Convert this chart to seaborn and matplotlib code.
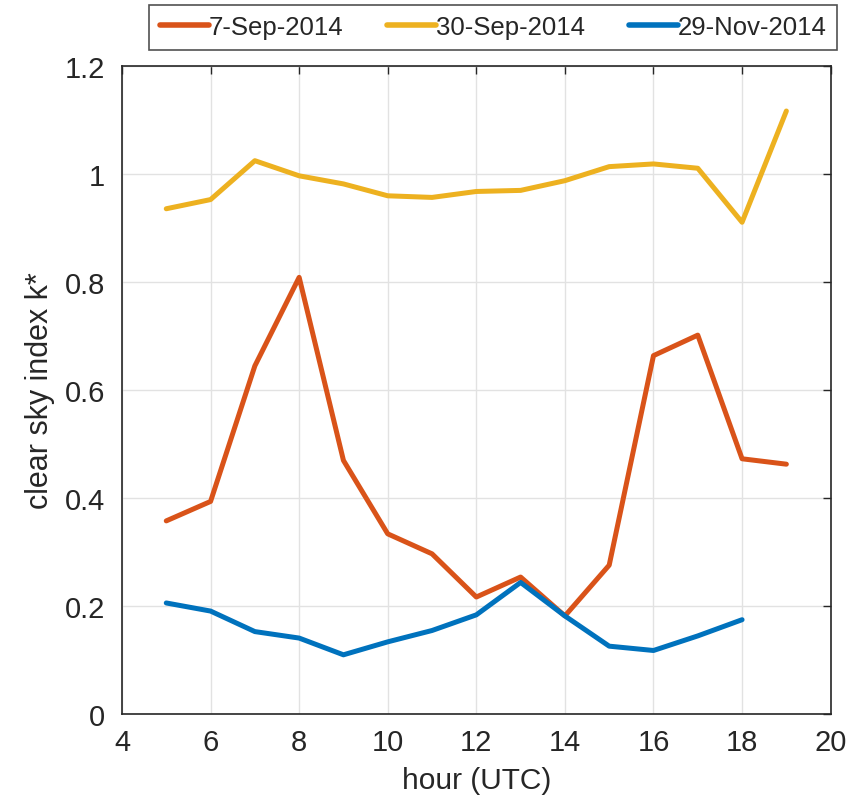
import matplotlib
matplotlib.use("Agg")
import matplotlib.pyplot as plt
import seaborn as sns
import pandas as pd

hours_a = [5, 6, 7, 8, 9, 10, 11, 12, 13, 14, 15, 16, 17, 18, 19]
sep7 = [0.357, 0.393, 0.644, 0.808, 0.469, 0.333, 0.296, 0.216, 0.253, 0.181, 0.275, 0.663, 0.701, 0.472, 0.462]
sep30 = [0.935, 0.952, 1.024, 0.996, 0.981, 0.959, 0.956, 0.967, 0.969, 0.987, 1.013, 1.018, 1.010, 0.910, 1.116]
hours_b = [5, 6, 7, 8, 9, 10, 11, 12, 13, 14, 15, 16, 17, 18]
nov29 = [0.205, 0.190, 0.152, 0.140, 0.109, 0.133, 0.154, 0.183, 0.243, 0.181, 0.125, 0.117, 0.144, 0.174]

labels = ["7-Sep-2014", "30-Sep-2014", "29-Nov-2014"]
colors = ["#D95319", "#EDB120", "#0072BD"]
xticks = [4, 6, 8, 10, 12, 14, 16, 18, 20]
yticks = [0, 0.2, 0.4, 0.6, 0.8, 1.0, 1.2]
ytick_labels = ["0", "0.2", "0.4", "0.6", "0.8", "1", "1.2"]

df = pd.concat([
    pd.DataFrame({"hour": hours_a, "k": sep7, "date": labels[0]}),
    pd.DataFrame({"hour": hours_a, "k": sep30, "date": labels[1]}),
    pd.DataFrame({"hour": hours_b, "k": nov29, "date": labels[2]}),
])

sns.set_theme(style="white")
plt.rcParams["font.family"] = ["Liberation Sans", "DejaVu Sans"]

fig = plt.figure(figsize=(8.59, 8.03), dpi=100)
ax = fig.add_axes([0.142, 0.110, 0.825, 0.807])

sns.lineplot(data=df, x="hour", y="k", hue="date", hue_order=labels,
             palette=colors, linewidth=3.6, ax=ax, legend=True, sort=False)

ax.set_xlim(4, 20)
ax.set_ylim(0, 1.2)
ax.set_xticks(xticks)
ax.set_xticklabels([str(t) for t in xticks])
ax.set_yticks(yticks)
ax.set_yticklabels(ytick_labels)
ax.grid(True, color="#e2e2e2", linewidth=1.0)
ax.set_axisbelow(True)
for s in ax.spines.values():
    s.set_visible(True)
    s.set_color("#262626")
    s.set_linewidth(1.2)
ax.tick_params(axis="both", which="both", direction="in", length=6, width=1,
               top=True, right=True, labelsize=21, colors="#262626")
ax.tick_params(axis="y", pad=12)
ax.tick_params(axis="x", pad=10.5)
ax.set_xlabel("hour (UTC)", fontsize=21.5, color="#262626", labelpad=7)
ax.set_ylabel("clear sky index k*", fontsize=22, color="#262626", labelpad=7)

handles, labs = ax.get_legend_handles_labels()
ax.get_legend().remove()
leg = fig.legend(handles, labs, loc="upper left", bbox_to_anchor=(0.174, 0.993),
                 ncol=3, frameon=True, fontsize=18.5, handlelength=1.9,
                 handletextpad=0.0, columnspacing=1.7, borderpad=0.42,
                 borderaxespad=0.0, fancybox=False, edgecolor="#262626")
leg.get_frame().set_linewidth(1.2)
for lh in leg.get_lines():
    lh.set_linewidth(4.0)

fig.savefig("out.png", dpi=100)
